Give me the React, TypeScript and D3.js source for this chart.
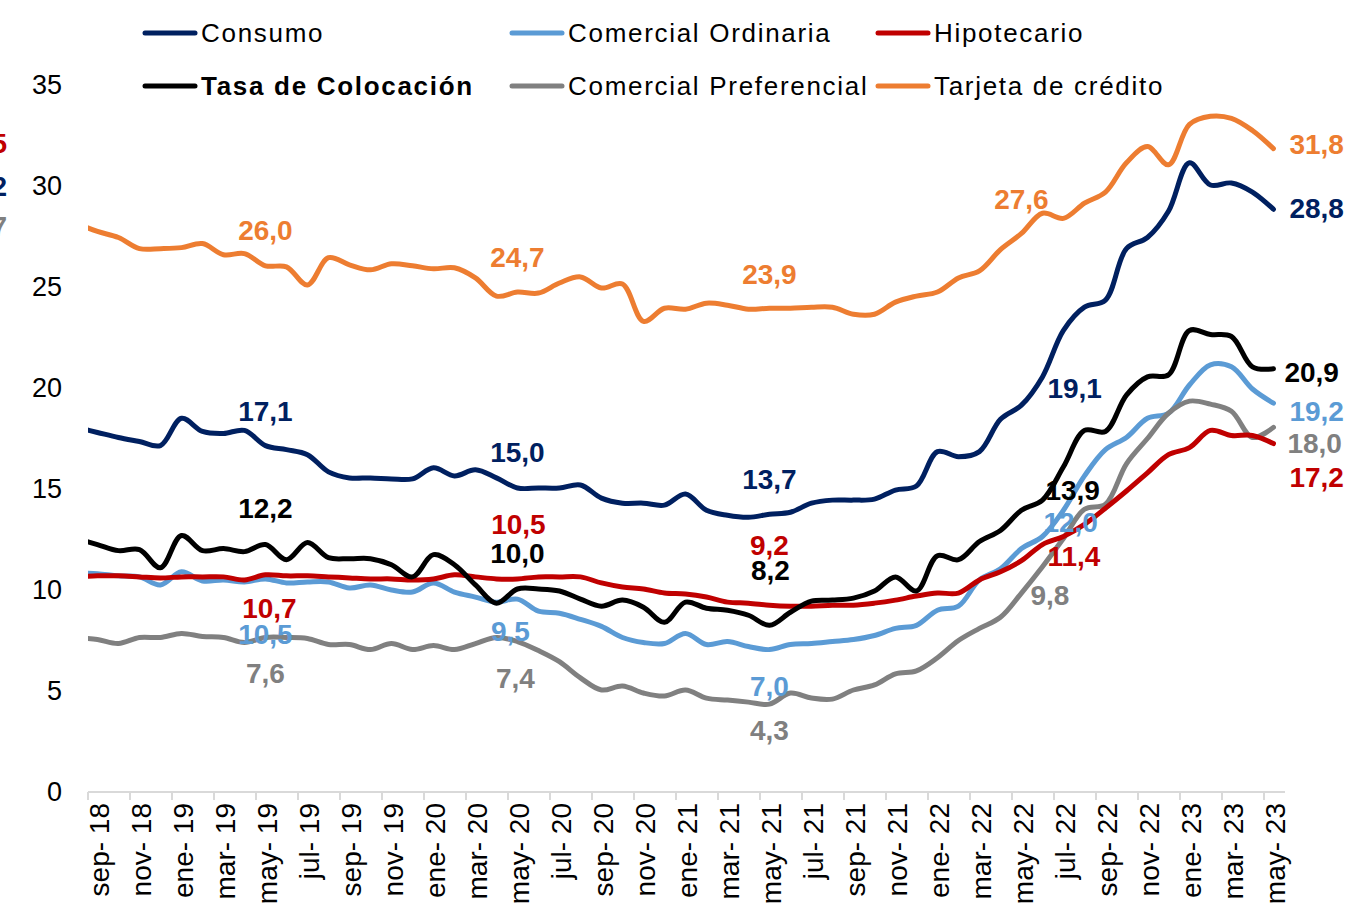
import React from "react";
import * as d3 from "d3";

// etiquetas del eje x (cada dos meses)
const etiquetasX = [
  "sep- 18", "nov- 18", "ene- 19", "mar- 19", "may- 19", "jul- 19", "sep- 19", "nov- 19",
  "ene- 20", "mar- 20", "may- 20", "jul- 20", "sep- 20", "nov- 20", "ene- 21", "mar- 21",
  "may- 21", "jul- 21", "sep- 21", "nov- 21", "ene- 22", "mar- 22", "may- 22", "jul- 22",
  "sep- 22", "nov- 22", "ene- 23", "mar- 23", "may- 23",
];
const ticksY = [0, 5, 10, 15, 20, 25, 30, 35];

// valores mensuales, ago-18 (recortado por el área) a may-23
const consumo = [
  18.0,
  17.75, 17.5, 17.3, 17.1, 18.45, 17.8, 17.7, 17.85, 17.1, 16.9,
  16.65, 15.8, 15.5, 15.5, 15.45, 15.45, 16.0, 15.6, 15.9, 15.5,
  15.0, 15.0, 15.0, 15.15, 14.5, 14.25, 14.25, 14.15, 14.7, 13.9,
  13.65, 13.55, 13.7, 13.8, 14.25, 14.4, 14.4, 14.45, 14.9, 15.1,
  16.8, 16.55, 16.8, 18.4, 19.1, 20.5, 22.8, 23.95, 24.3, 26.85,
  27.4, 28.7, 31.1, 30.0, 30.1, 29.65, 28.8,
];
const comercialOrdinaria = [
  10.8,
  10.75, 10.65, 10.6, 10.2, 10.85, 10.4, 10.45, 10.35, 10.5, 10.3,
  10.35, 10.35, 10.05, 10.2, 9.95, 9.85, 10.3, 9.85, 9.6, 9.35,
  9.5, 8.9, 8.8, 8.5, 8.15, 7.6, 7.35, 7.3, 7.8, 7.25,
  7.4, 7.15, 7.0, 7.25, 7.3, 7.4, 7.5, 7.7, 8.05, 8.2,
  8.95, 9.15, 10.45, 11.0, 12.0, 12.6, 13.9, 15.6, 16.9, 17.5,
  18.45, 18.7, 20.1, 21.1, 21.0, 19.9, 19.2,
];
const hipotecario = [
  10.6,
  10.65, 10.65, 10.6, 10.55, 10.6, 10.6, 10.6, 10.45, 10.7, 10.65,
  10.65, 10.6, 10.55, 10.5, 10.5, 10.45, 10.5, 10.7, 10.6, 10.5,
  10.5, 10.6, 10.6, 10.6, 10.3, 10.1, 10.0, 9.8, 9.75, 9.6,
  9.35, 9.3, 9.2, 9.15, 9.15, 9.2, 9.2, 9.3, 9.45, 9.65,
  9.8, 9.8, 10.45, 10.85, 11.4, 12.2, 12.6, 13.2, 14.0, 14.85,
  15.75, 16.65, 17.0, 17.85, 17.6, 17.6, 17.2,
];
const tasaColocacion = [
  12.5,
  12.2, 11.9, 11.95, 11.05, 12.65, 11.9, 12.0, 11.85, 12.2, 11.45,
  12.3, 11.55, 11.5, 11.5, 11.2, 10.6, 11.7, 11.2, 10.2, 9.3,
  10.0, 10.0, 9.9, 9.5, 9.15, 9.45, 9.1, 8.35, 9.35, 9.05,
  8.95, 8.7, 8.2, 8.85, 9.4, 9.45, 9.55, 9.9, 10.6, 9.9,
  11.65, 11.45, 12.35, 12.9, 13.9, 14.4, 16.05, 17.85, 17.8, 19.6,
  20.5, 20.6, 22.8, 22.6, 22.5, 21.0, 20.9,
];
const comercialPreferencial = [
  7.6,
  7.5, 7.3, 7.6, 7.6, 7.8, 7.65, 7.6, 7.35, 7.6, 7.6,
  7.55, 7.25, 7.25, 7.0, 7.3, 7.0, 7.2, 7.0, 7.3, 7.6,
  7.4, 6.95, 6.4, 5.6, 5.0, 5.2, 4.85, 4.7, 5.0, 4.6,
  4.5, 4.4, 4.3, 4.85, 4.6, 4.55, 5.0, 5.25, 5.8, 5.95,
  6.6, 7.45, 8.05, 8.6, 9.8, 11.1, 12.5, 13.95, 14.2, 16.2,
  17.45, 18.7, 19.3, 19.15, 18.8, 17.5, 18.0,
];
const tarjetaCredito = [
  28.1,
  27.7, 27.4, 26.85, 26.85, 26.9, 27.1, 26.55, 26.6, 26.0, 25.95,
  25.05, 26.4, 26.05, 25.8, 26.1, 26.0, 25.85, 25.9, 25.4, 24.5,
  24.7, 24.65, 25.15, 25.45, 24.9, 25.1, 23.25, 23.9, 23.85, 24.15,
  24.05, 23.85, 23.9, 23.9, 23.95, 23.95, 23.6, 23.6, 24.2, 24.5,
  24.7, 25.4, 25.75, 26.8, 27.6, 28.6, 28.35, 29.1, 29.65, 31.1,
  31.9, 31.0, 33.0, 33.4, 33.3, 32.7, 31.8,
];

// meses con etiqueta de dato (índice desde sep-18)
const mesesEtiqueta = [8, 20, 32, 44, 56];

type Lbl = [number, number, string]; // dx, dy, anchor
type Serie = {
  name: string;
  values: number[];
  color: string;
  bold?: boolean;
  labels: Lbl[];
};

const series: Serie[] = [
  { name: "Consumo", values: consumo, color: "#002060",
    labels: [[0, -35, "middle"], [0, -36, "middle"], [0, -35, "middle"], [26, -17, "start"], [16, -1, "start"]] },
  { name: "Comercial Ordinaria", values: comercialOrdinaria, color: "#5B9BD5",
    labels: [[0, 55, "middle"], [-7, 32, "middle"], [0, 36, "middle"], [22, -27, "start"], [16, 8, "start"]] },
  { name: "Hipotecario", values: hipotecario, color: "#C00000",
    labels: [[4, 33, "middle"], [1, -55, "middle"], [0, -60, "middle"], [26, -5, "start"], [16, 33, "start"]] },
  { name: "Tasa de Colocación", values: tasaColocacion, color: "#000000", bold: true,
    labels: [[0, -37, "middle"], [0, -36, "middle"], [1, -55, "middle"], [24, -20, "start"], [11, 3, "start"]] },
  { name: "Comercial Preferencial", values: comercialPreferencial, color: "#808080",
    labels: [[0, 35, "middle"], [-2, 36, "middle"], [0, 26, "middle"], [9, 2, "start"], [14, 16, "start"]] },
  { name: "Tarjeta de crédito", values: tarjetaCredito, color: "#ED7D31",
    labels: [[0, -36, "middle"], [0, -35, "middle"], [0, -34, "middle"], [0, -35, "middle"], [16, -5, "start"]] },
];

const drawOrder = [1, 4, 2, 3, 0, 5];
const legendOrder = [0, 1, 2, 3, 4, 5];

const W = 1357;
const H = 918;
const left = 88;
const right = 1285;
const top = 84;
const bottom = 791;
const font = "'Liberation Sans', Arial, sans-serif";

const fmt = (v: number) => d3.format(".1f")(v).replace(".", ",");

export default function App() {
  // meses desde 1-sep-18; el dato cae a mitad de mes
  const x = d3.scaleLinear().domain([0, 57]).range([left, right]);
  const y = d3.scaleLinear().domain([0, 35]).range([bottom, top]);
  const px = (i: number) => x(i - 1 + 0.45); // i = índice del array (0 = ago-18)

  const line = d3
    .line<number>()
    .x((_, i) => px(i))
    .y((d) => y(d))
    .curve(d3.curveCatmullRom.alpha(0.5));

  const legendCols = [143, 510, 876];
  const legendRows = [33, 86];

  return (
    <svg width={W} height={H} style={{ position: "absolute", left: 0, top: 0, background: "#fff" }}
      fontFamily={font}>
      <defs>
        <clipPath id="plot">
          <rect x={left} y={0} width={1310 - left} height={H} />
        </clipPath>
      </defs>

      {/* eje y */}
      {ticksY.map((t) => (
        <text key={t} x={62} y={y(t)} dy="0.36em" textAnchor="end" fontSize={27} fill="#000">
          {t}
        </text>
      ))}

      {/* eje x */}
      <line x1={left} x2={right} y1={bottom + 1} y2={bottom + 1} stroke="#d9d9d9" strokeWidth={2} />
      {etiquetasX.map((lab, k) => {
        const tx = x(k * 2);
        return (
          <g key={lab}>
            <line x1={tx} x2={tx} y1={bottom + 1} y2={bottom + 9} stroke="#d9d9d9" strokeWidth={2} />
            <text transform={`translate(${tx + 21},${bottom + 12}) rotate(-90)`} textAnchor="end"
              fontSize={28} fill="#000">
              {lab}
            </text>
          </g>
        );
      })}

      {/* líneas */}
      <g clipPath="url(#plot)">
        {drawOrder.map((si) => {
          const s = series[si];
          return (
            <path key={s.name} d={line(s.values) || ""} fill="none" stroke={s.color}
              strokeWidth={5} strokeLinejoin="round" strokeLinecap="round" />
          );
        })}
      </g>

      {/* etiquetas de datos */}
      {series.map((s) =>
        mesesEtiqueta.map((m, j) => {
          const i = m + 1;
          const [dx, dy, anchor] = s.labels[j];
          return (
            <text key={s.name + m} x={px(i) + dx} y={y(s.values[i]) + dy} dy="0.36em"
              textAnchor={anchor as any} fontSize={28} fontWeight="bold" fill={s.color}>
              {fmt(s.values[i])}
            </text>
          );
        })
      )}

      {/* restos de etiquetas cortadas a la izquierda */}
      <text x={7} y={143} dy="0.36em" textAnchor="end" fontSize={28} fontWeight="bold" fill="#C00000">5</text>
      <text x={7} y={186} dy="0.36em" textAnchor="end" fontSize={28} fontWeight="bold" fill="#002060">2</text>
      <text x={7} y={226} dy="0.36em" textAnchor="end" fontSize={28} fontWeight="bold" fill="#808080">7</text>

      {/* leyenda */}
      {legendOrder.map((si, k) => {
        const s = series[si];
        const cx = legendCols[k % 3];
        const cy = legendRows[Math.floor(k / 3)];
        return (
          <g key={s.name}>
            <line x1={cx + 2} x2={cx + 52} y1={cy} y2={cy} stroke={s.color} strokeWidth={5}
              strokeLinecap="round" />
            <text x={cx + 58} y={cy} dy="0.36em" fontSize={26} letterSpacing={1.7}
              fontWeight={s.bold ? "bold" : "normal"} fill="#000">
              {s.name}
            </text>
          </g>
        );
      })}
    </svg>
  );
}
